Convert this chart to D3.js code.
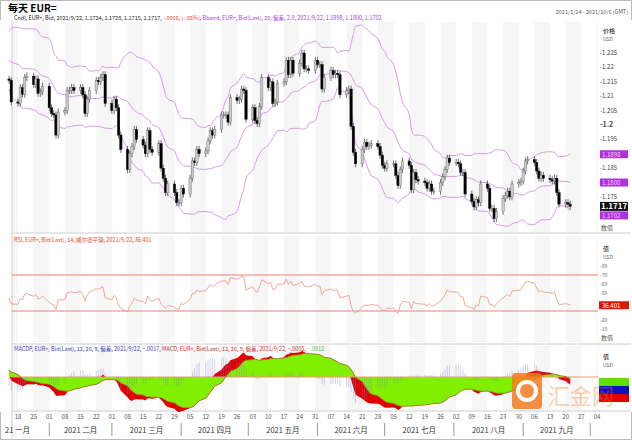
<!DOCTYPE html>
<html><head><meta charset="utf-8">
<script src="https://cdn.jsdelivr.net/npm/d3@7/dist/d3.min.js"></script>
<style>body{margin:0;background:#fff;font-family:"Noto Sans CJK SC","DejaVu Sans",sans-serif}</style>
</head><body><svg id="c" width="632" height="440"></svg>
<script>
// warm-up closes (Dec 14 2020 - Jan 13 2021), used only for indicators
const priorCloses=[1.2150,1.2150,1.2195,1.2265,1.2255,1.2240,1.2160,1.2190,1.2185,1.2215,1.2250,1.2295,1.2215,1.2250,1.2295,1.2325,1.2270,1.2220,1.2150,1.2210,1.2155];
// daily closes Jan 14 2021 - Sep 22 2021
const startDate="2021-01-14";
const closes=[1.2155,1.2080,
1.2076,1.2130,1.2107,1.2165,1.2170, 1.2140,1.2160,1.2110,1.2115,1.2135, 1.2060,1.2040,1.2035,1.1965,1.2045,
1.2050,1.2120,1.2120,1.2130,1.2120, 1.2130,1.2105,1.2040,1.2090,1.2120, 1.2155,1.2150,1.2165,1.2175,1.2075,
1.2050,1.2090,1.2060,1.1965,1.1915, 1.1845,1.1900,1.1925,1.1985,1.1950, 1.1930,1.1900,1.1980,1.1915,1.1905,
1.1935,1.1850,1.1815,1.1765,1.1795, 1.1765,1.1730,1.1730,1.1780,1.1760, 1.1815,1.1875,1.1870,1.1915,1.1900,
1.1910,1.1945,1.1980,1.1965,1.1985, 1.2035,1.2035,1.2035,1.2010,1.2095, 1.2085,1.2090,1.2125,1.2120,1.2020,
1.2060,1.2015,1.2005,1.2065,1.2165, 1.2130,1.2150,1.2075,1.2080,1.2145, 1.2150,1.2225,1.2175,1.2225,1.2180,
1.2215,1.2250,1.2195,1.2195,1.2190, 1.2225,1.2210,1.2210,1.2125,1.2165, 1.2190,1.2175,1.2180,1.2175,1.2105,
1.2120,1.2125,1.1995,1.1905,1.1865, 1.1915,1.1940,1.1925,1.1930,1.1935, 1.1925,1.1895,1.1860,1.1850,1.1865,
1.1865,1.1825,1.1790,1.1845,1.1875, 1.1860,1.1775,1.1835,1.1810,1.1805, 1.1800,1.1780,1.1795,1.1770,1.1770,
1.1800,1.1820,1.1845,1.1885,1.1870, 1.1870,1.1865,1.1835,1.1835,1.1760, 1.1735,1.1715,1.1740,1.1730,1.1795,
1.1780,1.1710,1.1710,1.1675,1.1700, 1.1745,1.1755,1.1770,1.1750,1.1795, 1.1800,1.1805,1.1840,1.1875,1.1880,
1.1870,1.1840,1.1815,1.1825,1.1815, 1.1810,1.1805,1.1815,1.1765,1.1725, 1.1730,1.1725,1.1717];
const weekLabels=["18","25","01","08","15","22","01","08","15","22","29","05","12","19","26","03","10","17","24","31","07","14","21","28","05","12","19","26","02","09","16","23","30","06","13","20","27","04"];
const firstWeek="2021-01-18";
const monthLabels=["21 一月","2021 二月","2021 三月","2021 四月","2021 五月","2021 六月","2021 七月","2021 八月","2021 九月"];
const priceTicks=[1.225,1.22,1.215,1.21,1.205,1.2,1.195,1.19,1.185,1.18,1.175,1.17];
const rsiTicks=[80,70,60,50,40,30,20,10];

const holidays=["2020-12-25","2021-01-01"];
function weekdays(start,n){const out=[];let d=new Date(start+"T00:00:00");while(out.length<n){const w=d.getDay();const s=d3.timeFormat("%Y-%m-%d")(d);if(w>0&&w<6&&!holidays.includes(s))out.push(new Date(d));d=d3.timeDay.offset(d,1);}return out;}
const allC=priorCloses.concat(closes);
const np=priorCloses.length;
const dates=weekdays(startDate,closes.length);

const bb=allC.map((c,i)=>{const w=allC.slice(Math.max(0,i-19),i+1);const m=d3.mean(w);const sd=Math.sqrt(d3.mean(w,v=>(v-m)*(v-m)));return{m,u:m+2*sd,l:m-2*sd};}).slice(np);
function ema(a,n){const k=2/(n+1);const o=[];a.forEach((v,i)=>o.push(i?v*k+o[i-1]*(1-k):v));return o;}
const e12=ema(allC,12),e26=ema(allC,26);
const macdAll=allC.map((v,i)=>e12[i]-e26[i]);
const sigAll=ema(macdAll,9);
let ag=0,al=0;const rsiAll=allC.map((c,i)=>{if(!i)return 50;const ch=c-allC[i-1];const g=Math.max(ch,0),l=Math.max(-ch,0);ag=(ag*13+g)/14;al=(al*13+l)/14;return al?100-100/(1+ag/al):100;});
const macd=macdAll.slice(np),sig=sigAll.slice(np),rsi=rsiAll.slice(np);

const svg=d3.select("#c");
const L=12,R=598;
const x=d3.scaleTime().domain([new Date(firstWeek),new Date("2021-10-04")]).range([18,597]);
const yP=d3.scaleLinear().domain([1.1635,1.2365]).range([230,20]);
const yR=d3.scaleLinear().domain([30,70]).range([311,275]);
const yM=d3.scaleLinear().domain([0,0.0045]).range([377,357]);

svg.append("rect").attr("x",0.5).attr("y",0.5).attr("width",631).attr("height",439).attr("fill","none").attr("stroke","#bbb");
const weeks=d3.timeMonday.range(new Date("2021-01-11"),new Date("2021-10-11"));
weeks.forEach((w,i)=>{if(i%2==0)[[22,232],[236,342],[346,410]].forEach(([a,b])=>svg.append("rect").attr("x",x(w)).attr("y",a).attr("width",x(d3.timeDay.offset(w,7))-x(w)).attr("height",b-a).attr("fill","#f6f6f6"));});
svg.append("rect").attr("x",R).attr("y",20).attr("width",34).attr("height",392).attr("fill","#fff");
svg.append("rect").attr("x",0).attr("y",20).attr("width",L).attr("height",392).attr("fill","#fff");
[233,344,411].forEach(y=>svg.append("line").attr("x1",L).attr("x2",631).attr("y1",y).attr("y2",y).attr("stroke","#ccc"));
svg.append("line").attr("x1",L).attr("x2",L).attr("y1",20).attr("y2",440).attr("stroke","#ccc");

svg.append("text").attr("x",8).attr("y",12).attr("font-size",10).attr("font-weight","bold").text("每天 EUR=");
svg.append("text").attr("x",628).attr("y",14).attr("font-size",5.5).attr("text-anchor","end").attr("fill","#555").text("2021/1/14 - 2021/10/6 (GMT)");
const last=bb[bb.length-1];
const lg=svg.append("text").attr("x",14).attr("y",20).attr("font-size",5.5);
lg.append("tspan").attr("fill","#222").text("Cndl, EUR=, Bid, 2021/9/22, 1.1724, 1.1728, 1.1715, 1.1717, ");
lg.append("tspan").attr("fill","#e03030").text("-.0006, (-.05%), ");
lg.append("tspan").attr("fill","#a040e0").text("Bband, EUR=, Bid(Last), 20, 偏差, 2.0, 2021/9/22, "+d3.format(".4f")(last.u)+", "+d3.format(".4f")(last.m)+", "+d3.format(".4f")(last.l));

["u","m","l"].forEach(k=>svg.append("path").attr("d",d3.line().x((d,i)=>x(dates[i])).y(d=>yP(d[k])).curve(d3.curveMonotoneX)(bb)).attr("fill","none").attr("stroke","#d49be8").attr("stroke-width",1));
closes.forEach((c,i)=>{const o=i?closes[i-1]:1.2160;const cx=x(dates[i]);const hi=Math.max(o,c)+0.0012,lo=Math.min(o,c)-0.0012;
 svg.append("line").attr("x1",cx).attr("x2",cx).attr("y1",yP(hi)).attr("y2",yP(lo)).attr("stroke","#333").attr("stroke-width",0.7);
 svg.append("rect").attr("x",cx-1.2).attr("width",2.4).attr("y",yP(Math.max(o,c))).attr("height",Math.max(0.8,Math.abs(yP(o)-yP(c)))).attr("fill",c>=o?"#ccc":"#000").attr("stroke",c>=o?"#666":"#000").attr("stroke-width",0.4);});

svg.append("text").attr("x",603).attr("y",33).attr("font-size",6).text("价格");
svg.append("text").attr("x",603).attr("y",41).attr("font-size",5).attr("fill","#555").text("USD");
const lc=closes[closes.length-1];
const boxYs=[yP(last.u),yP(last.m),yP(lc),Math.max(yP(last.l),yP(lc)+9)];
priceTicks.forEach(t=>{if(boxYs.some(b=>Math.abs(b-yP(t))<7))return;svg.append("text").attr("x",600).attr("y",yP(t)+2).attr("font-size",t==1.2?7:6).attr("font-weight",t==1.2?"bold":"normal").attr("fill","#444").text("-"+t);});
[[last.u,boxYs[0]],[last.m,boxYs[1]],[last.l,boxYs[3]]].forEach(([v,y])=>{svg.append("rect").attr("x",600).attr("y",y-4).attr("width",28).attr("height",8).attr("fill","#b030e0");svg.append("text").attr("x",602).attr("y",y+2.5).attr("font-size",6).attr("fill","#f0d0ff").text(d3.format(".4f")(v));});
svg.append("rect").attr("x",600).attr("y",yP(lc)-4.5).attr("width",28).attr("height",9).attr("fill","#111");
svg.append("text").attr("x",601).attr("y",yP(lc)+3).attr("font-size",8).attr("font-weight","bold").attr("fill","#fff").text(d3.format(".4f")(lc));
svg.append("text").attr("x",601).attr("y",230).attr("font-size",6).attr("fill","#555").text("数值");

svg.append("text").attr("x",14).attr("y",242).attr("font-size",5.5).attr("fill","#e05030").text("RSI, EUR=, Bid(Last), 14, 威尔德平滑, 2021/9/22, "+d3.format(".3f")(rsi[rsi.length-1]));
[70,30].forEach(v=>svg.append("line").attr("x1",L).attr("x2",R).attr("y1",yR(v)).attr("y2",yR(v)).attr("stroke","#f08070").attr("stroke-width",1));
svg.append("path").attr("d",d3.line().x((d,i)=>x(dates[i])).y(d=>yR(d))(rsi)).attr("fill","none").attr("stroke","#e8a090").attr("stroke-width",0.9);
svg.append("text").attr("x",603).attr("y",251).attr("font-size",6).text("值");
svg.append("text").attr("x",603).attr("y",259).attr("font-size",5).attr("fill","#555").text("USD");
const lr=rsi[rsi.length-1];
rsiTicks.forEach(t=>{if(Math.abs(yR(t)-yR(lr))<6)return;svg.append("text").attr("x",600).attr("y",yR(t)+2).attr("font-size",5).attr("fill","#666").text("-"+t);});
svg.append("rect").attr("x",599).attr("y",yR(lr)-4).attr("width",30).attr("height",8).attr("fill","#d02000");
svg.append("text").attr("x",602).attr("y",yR(lr)+2.5).attr("font-size",6).attr("fill","#fff").text(d3.format(".3f")(lr));
svg.append("text").attr("x",601).attr("y",340).attr("font-size",6).attr("fill","#555").text("数值");

const ml=svg.append("text").attr("x",14).attr("y",351).attr("font-size",5.5);
ml.append("tspan").attr("fill","#4040c0").text("MACDP, EUR=, Bid(Last), 12, 26, 9, 偏差, 2021/9/22, "+d3.format(".4f")(macd[macd.length-1]).replace("0.",".")+", ");
ml.append("tspan").attr("fill","#d03030").text("MACD, EUR=, Bid(Last), 12, 26, 9, 偏差, 2021/9/22, "+d3.format(".4f")(sig[sig.length-1]).replace("0.",".")+", ");
ml.append("tspan").attr("fill","#40c040").text(d3.format(".4f")(macd[macd.length-1]-sig[sig.length-1]).replace("0.","."));
const idx=d3.range(closes.length);
svg.append("path").attr("d",d3.area().x(i=>x(dates[i])).y0(i=>yM(sig[i])).y1(i=>yM(macd[i]))(idx)).attr("fill","#e00000");
svg.append("path").attr("d",d3.area().x(i=>x(dates[i])).y0(yM(0)).y1(i=>yM(sig[i]))(idx)).attr("fill","#80f000");
svg.append("line").attr("x1",L).attr("x2",R).attr("y1",yM(0)).attr("y2",yM(0)).attr("stroke","#e8a070").attr("stroke-width",1);
idx.forEach(i=>{const h=(macd[i]-sig[i])*1.5;svg.append("line").attr("x1",x(dates[i])).attr("x2",x(dates[i])).attr("y1",yM(0)).attr("y2",yM(h)).attr("stroke","#8080e0").attr("stroke-width",0.6).attr("opacity",0.6);});
svg.append("path").attr("d",d3.line().x(i=>x(dates[i])).y(i=>yM(sig[i]))(idx)).attr("fill","none").attr("stroke","#a06020").attr("stroke-width",0.7);
svg.append("text").attr("x",603).attr("y",359).attr("font-size",6).text("值");
svg.append("text").attr("x",603).attr("y",367).attr("font-size",5).attr("fill","#555").text("USD");
[["#60e000",yM(0)+1],["#1010c0",yM(0)+9],["#e00000",yM(0)+17]].forEach(([c,y])=>svg.append("rect").attr("x",599).attr("y",y).attr("width",30).attr("height",8).attr("fill",c));

weekLabels.forEach((t,i)=>svg.append("text").attr("x",x(d3.timeDay.offset(new Date(firstWeek),7*i))).attr("y",419).attr("font-size",6).attr("fill","#555").attr("text-anchor","middle").text(t));
const months=d3.timeMonth.range(new Date("2021-01-01"),new Date("2021-10-02"));
months.forEach((m,i)=>{const a=Math.max(L,x(m)),b=x(d3.timeMonth.offset(m,1));
 if(i>0)svg.append("line").attr("x1",x(m)).attr("x2",x(m)).attr("y1",423).attr("y2",436).attr("stroke","#999");
 if(i<monthLabels.length)svg.append("text").attr("x",i==0?5:(a+b)/2).attr("y",433).attr("font-size",7.5).attr("fill","#333").attr("text-anchor",i==0?"start":"middle").text(monthLabels[i]);});
svg.append("rect").attr("x",512).attr("y",373).attr("width",30).attr("height",36).attr("rx",4).attr("fill","#f47a20").attr("opacity",0.85);
svg.append("circle").attr("cx",527).attr("cy",391).attr("r",9).attr("fill","none").attr("stroke","#fff").attr("stroke-width",4);
svg.append("text").attr("x",548).attr("y",404).attr("font-size",22).attr("fill","#f47a20").attr("opacity",0.35).text("汇金网");
</script></body></html>
